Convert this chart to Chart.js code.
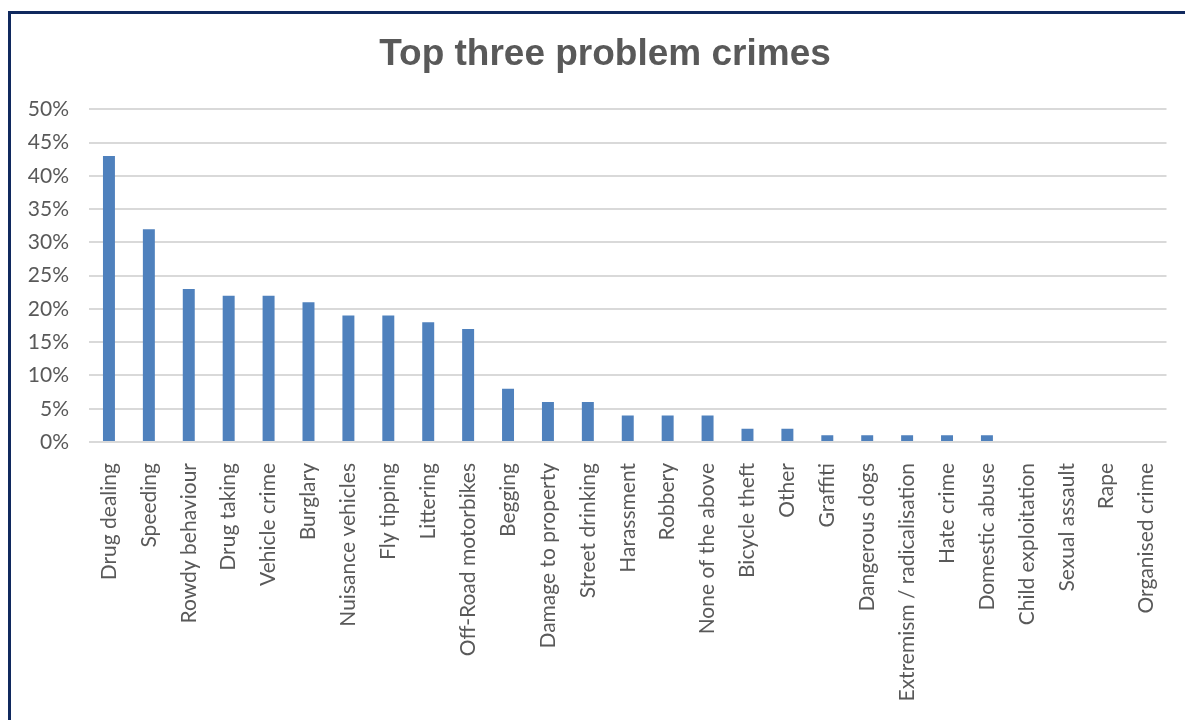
<!DOCTYPE html>
<html>
<head>
<meta charset="utf-8">
<title>Top three problem crimes</title>
<script src="https://cdn.jsdelivr.net/npm/chart.js@4.4.1/dist/chart.umd.min.js"></script>
<style>
  html, body { margin: 0; padding: 0; background: #fff; }
  #wrap { position: relative; width: 1185px; height: 720px; overflow: hidden; }
  #frame {
    position: absolute; left: 8px; top: 11px; right: -4px; bottom: -4px;
    border-left: 3px solid #10295e; border-top: 3px solid #10295e;
    pointer-events: none;
  }
  canvas { position: absolute; left: 0; top: 0; }
</style>
</head>
<body>
<div id="wrap">
  <canvas id="crimeChart" width="1185" height="720"></canvas>
  <div id="frame"></div>
</div>
<script>
const crimes = [
  'Drug dealing', 'Speeding', 'Rowdy behaviour', 'Drug taking', 'Vehicle crime',
  'Burglary', 'Nuisance vehicles', 'Fly tipping', 'Littering', 'Off-Road motorbikes',
  'Begging', 'Damage to property', 'Street drinking', 'Harassment', 'Robbery',
  'None of the above', 'Bicycle theft', 'Other', 'Graffiti', 'Dangerous dogs',
  'Extremism / radicalisation', 'Hate crime', 'Domestic abuse', 'Child exploitation',
  'Sexual assault', 'Rape', 'Organised crime'
];
const percentages = [
  43, 32, 23, 22, 22,
  21, 19, 19, 18, 17,
  8, 6, 6, 4, 4,
  4, 2, 2, 1, 1,
  1, 1, 1, 0,
  0, 0, 0
];
const yTicks = [0, 5, 10, 15, 20, 25, 30, 35, 40, 45, 50];

const textGrey = '#595959';
const labelFont = "Lato, 'Open Sans', sans-serif";

// centre the title over the whole frame rather than the padded chart box
const titleShift = {
  id: 'titleShift',
  afterLayout(chart) {
    if (chart.titleBlock) chart.titleBlock.left += 38;
  }
};

new Chart(document.getElementById('crimeChart'), {
  type: 'bar',
  data: {
    labels: crimes,
    datasets: [{
      data: percentages,
      backgroundColor: '#4f81bd',
      categoryPercentage: 1,
      barPercentage: 0.3
    }]
  },
  plugins: [titleShift],
  options: {
    responsive: false,
    animation: false,
    layout: { padding: { left: 0, right: 13, top: 0, bottom: 0 } },
    plugins: {
      legend: { display: false },
      tooltip: { enabled: false },
      title: {
        display: true,
        text: 'Top three problem crimes',
        color: textGrey,
        font: { family: "'Liberation Sans', Arial, sans-serif", size: 37, weight: 'bold' },
        padding: { top: 33, bottom: 32 }
      }
    },
    scales: {
      x: {
        grid: { display: false },
        border: { display: false },
        ticks: {
          autoSkip: false,
          minRotation: 90,
          maxRotation: 90,
          padding: 13,
          color: textGrey,
          font: { family: labelFont, size: 21 }
        },
        afterFit: s => { s.height = 720 - 442; }
      },
      y: {
        min: 0,
        max: 50,
        afterBuildTicks: s => { s.ticks = yTicks.map(v => ({ value: v })); },
        grid: { color: '#d9d9d9', lineWidth: 2, drawTicks: false },
        border: { display: false },
        ticks: {
          padding: 20,
          color: textGrey,
          font: { family: labelFont, size: 21 },
          callback: v => v + '%'
        },
        afterFit: s => { s.width = 89; }
      }
    }
  }
});
</script>
</body>
</html>
